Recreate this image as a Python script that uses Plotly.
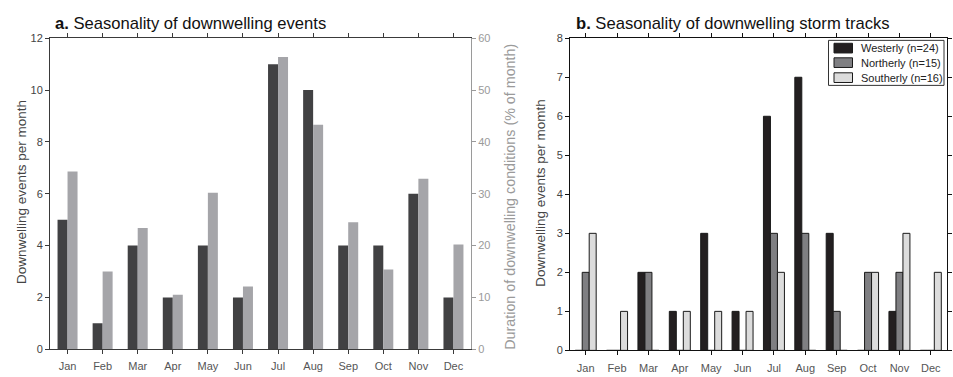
import plotly.graph_objects as go

months = ["Jan", "Feb", "Mar", "Apr", "May", "Jun", "Jul", "Aug", "Sep", "Oct", "Nov", "Dec"]
month_pos = list(range(1, 13))

# Panel a: downwelling events per month and duration (% of month)
events_per_month = [5, 1, 4, 2, 4, 2, 11, 10, 4, 4, 6, 2]
duration_pct = [34.3, 15.0, 23.4, 10.5, 30.2, 12.1, 56.4, 43.3, 24.5, 15.4, 32.9, 20.2]

# Panel b: storm tracks by direction
track_names = ["Westerly (n=24)", "Northerly (n=15)", "Southerly (n=16)"]
westerly = [0, 0, 2, 1, 3, 1, 6, 7, 3, 0, 1, 0]
northerly = [2, 0, 2, 0, 0, 0, 3, 3, 1, 2, 2, 0]
southerly = [3, 1, 0, 1, 1, 1, 2, 0, 0, 2, 3, 2]
track_colors = ["#231f20", "#7f7f82", "#dcdcdc"]

FONT = "Liberation Sans, Arial, sans-serif"
W, H = 953, 377


def px_x(p):
    return p / W


def px_y(p):
    return 1 - p / H


fig = go.Figure()

# ---- panel a
wa = 0.285
fig.add_trace(go.Bar(x=month_pos, y=events_per_month, width=wa, offset=-wa,
                     marker=dict(color="#414143", line=dict(width=0)),
                     xaxis="x", yaxis="y", showlegend=False))
fig.add_trace(go.Bar(x=month_pos, y=duration_pct, width=wa, offset=0,
                     marker=dict(color="#a5a5a9", line=dict(width=0)),
                     xaxis="x", yaxis="y2", showlegend=False))

# ---- panel b
wb = 0.223
for i, (name, vals, col) in enumerate(zip(track_names, [westerly, northerly, southerly], track_colors)):
    fig.add_trace(go.Bar(x=month_pos, y=vals, width=wb, offset=(i - 1.5) * wb, name=name,
                         marker=dict(color=col, line=dict(color="#1a1a1a", width=1)),
                         xaxis="x2", yaxis="y3", showlegend=False))

dom_a_x = [px_x(50), px_x(471)]
dom_b_x = [px_x(570), px_x(946.5)]
dom_a_y = [px_y(354.5), px_y(33.3)]
dom_b_y = [px_y(355.7), px_y(33.3)]

tickfont = dict(family=FONT, size=11, color="#444444")
common_x = dict(tickmode="array", tickvals=month_pos, ticktext=months, range=[0.5, 12.5],
                ticks="outside", ticklen=4, showgrid=False, zeroline=False,
                showline=True, linewidth=1, mirror="ticks", ticklabelstandoff=3,
                tickfont=dict(family=FONT, size=11, color="#555555"))

fig.update_layout(
    width=W, height=H, autosize=False,
    margin=dict(l=0, r=0, t=0, b=0),
    paper_bgcolor="white", plot_bgcolor="white",
    barmode="overlay", showlegend=False,
    font=dict(family=FONT, size=11, color="#333333"),
    xaxis=dict(domain=dom_a_x, anchor="y", linecolor="#3a3a3a", tickcolor="#3a3a3a", **common_x),
    yaxis=dict(domain=dom_a_y, anchor="x", range=[0, 12], dtick=2, ticks="outside", ticklen=4,
               showline=True, linewidth=1, linecolor="#3a3a3a", tickcolor="#3a3a3a",
               showgrid=False, zeroline=False, tickfont=tickfont),
    yaxis2=dict(overlaying="y", side="right", anchor="x", range=[0, 60], dtick=10,
                ticks="outside", ticklen=4, showline=True, linewidth=1,
                linecolor="#9a9a9a", tickcolor="#9a9a9a", showgrid=False, zeroline=False,
                tickfont=dict(family=FONT, size=11, color="#9a9a9a")),
    xaxis2=dict(domain=dom_b_x, anchor="y3", linecolor="#111111", tickcolor="#111111", **common_x),
    yaxis3=dict(domain=dom_b_y, anchor="x2", range=[0, 8], dtick=1, ticks="outside", ticklen=4,
                showline=True, linewidth=1, mirror="ticks", linecolor="#111111",
                tickcolor="#111111", showgrid=False, zeroline=False, tickfont=tickfont),
)

annotations = [
    dict(text="<b>a.</b> Seasonality of downwelling events", x=px_x(53), y=px_y(18),
         xanchor="left", yanchor="middle", font=dict(family=FONT, size=16.6, color="#111111")),
    dict(text="<b>b.</b> Seasonality of downwelling storm tracks", x=px_x(574), y=px_y(18),
         xanchor="left", yanchor="middle", font=dict(family=FONT, size=16.6, color="#111111")),
    dict(text="Downwelling events per month", x=px_x(22), y=px_y(192), textangle=-90,
         xanchor="center", yanchor="middle", font=dict(family=FONT, size=13.5, color="#444444")),
    dict(text="Duration of downwelling conditions (% of month)", x=px_x(510), y=px_y(197),
         textangle=-90, xanchor="center", yanchor="middle",
         font=dict(family=FONT, size=14.3, color="#9a9a9a")),
    dict(text="Downwelling events per momth", x=px_x(541), y=px_y(193), textangle=-90,
         xanchor="center", yanchor="middle", font=dict(family=FONT, size=13.5, color="#444444")),
]

# legend box for the storm-track panel
shapes = [dict(type="rect", xref="paper", yref="paper",
               x0=px_x(828.5), x1=px_x(944), y0=px_y(82), y1=px_y(35.5),
               line=dict(color="#333333", width=1), fillcolor="white", layer="above")]
row_centers = [43.5, 58.5, 74]
for name, col, yc in zip(track_names, track_colors, row_centers):
    shapes.append(dict(type="rect", xref="paper", yref="paper",
                       x0=px_x(834), x1=px_x(852.5), y0=px_y(yc + 5), y1=px_y(yc - 5),
                       line=dict(color="#1a1a1a", width=1), fillcolor=col, layer="above"))
    annotations.append(dict(text=name, x=px_x(858.5), y=px_y(yc), xanchor="left",
                            yanchor="middle", font=dict(family=FONT, size=11, color="#222222")))

for a in annotations:
    a.update(xref="paper", yref="paper", showarrow=False)
fig.update_layout(annotations=annotations, shapes=shapes)

fig.write_html("out.html")
